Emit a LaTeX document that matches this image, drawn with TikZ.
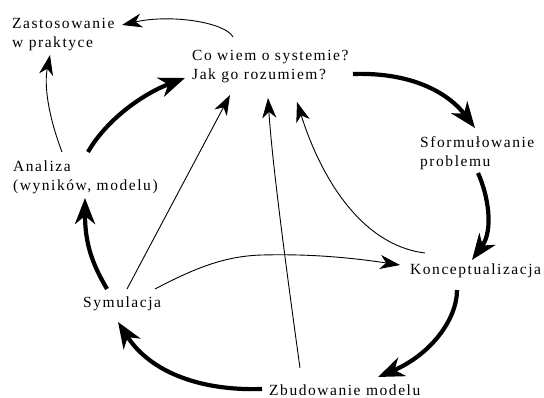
\documentclass[tikz,border=0pt]{standalone}
\usepackage{fontspec}
\setmainfont{Liberation Serif}[LetterSpace=10]
\usetikzlibrary{arrows.meta}
\newcommand{\lblfont}{\fontsize{15.5}{18.7}\selectfont}
\newcommand{\twolines}[2]{\vtop{\hbox{#1}\hbox{#2}}}
\tikzset{
  lbl/.style={font=\lblfont, inner sep=0pt, anchor=base west},
  cyc/.style={line width=4.2pt, -{Stealth[length=26pt,width=20pt,inset=8pt]}},
  rel/.style={line width=0.9pt, -{Stealth[length=20pt,width=14pt,inset=6pt]}}
}
\begin{document}
\begin{tikzpicture}[x=1pt,y=-1pt]
\useasboundingbox (0,0) rectangle (544,398);
% labels
\node[lbl] (zas) at (12,29) {\twolines{Zastosowanie}{w praktyce}};
\node[lbl] (co)  at (192,61) {\twolines{Co wiem o systemie?}{Jak go rozumiem?}};
\node[lbl] (sf)  at (420,148) {\twolines{Sformułowanie}{problemu}};
\node[lbl] (kon) at (410,275) {Konceptualizacja};
\node[lbl] (zb)  at (269,395.5) {Zbudowanie modelu};
\node[lbl] (sym) at (83,308) {Symulacja};
\node[lbl] (an)  at (13,172) {\twolines{Analiza}{(wyników, modelu)}};
% main cycle (thick)
\draw[cyc] (353,74) .. controls (415,72) and (450,95) .. (475,128);
\draw[cyc] (478,173) .. controls (488,195) and (494,230) .. (472,260);
\draw[cyc] (457,290) .. controls (457,320) and (430,355) .. (378,377);
\draw[cyc] (262,389) .. controls (200,391) and (150,372) .. (118,322);
\draw[cyc] (107,289) .. controls (93,265) and (85,245) .. (85,198);
\draw[cyc] (88,152) .. controls (105,122) and (140,95) .. (185,78);
% thin relations
\draw[rel] (233,37) .. controls (225,22) and (170,14) .. (122,25);
\draw[rel] (62,152) .. controls (48,115) and (44,85) .. (50,55);
\draw[rel] (127,289) -- (230,95);
\draw[rel] (300,368) .. controls (285,260) and (272,160) .. (268,98);
\draw[rel] (425,253) .. controls (360,245) and (320,175) .. (297,102);
\draw[rel] (155,289) .. controls (195,268) and (225,256) .. (262,255)
           .. controls (300,254) and (340,256) .. (400,265);
\end{tikzpicture}
\end{document}
